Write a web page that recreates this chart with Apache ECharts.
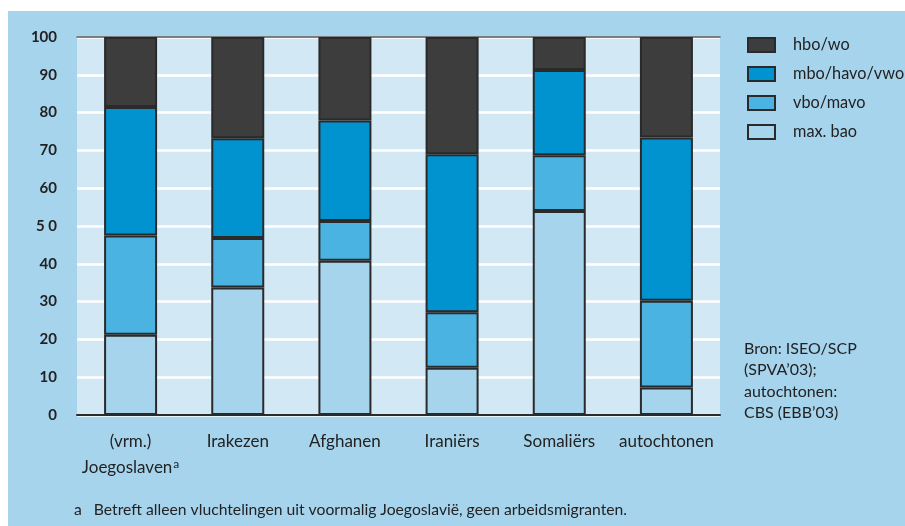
<!DOCTYPE html>
<html>
<head>
<meta charset="utf-8">
<script src="https://cdn.jsdelivr.net/npm/echarts@6/dist/echarts.min.js"></script>
<style>
  html, body { margin: 0; padding: 0; background: #ffffff; width: 905px; height: 526px; overflow: hidden; }
  #chart { position: absolute; left: 8px; top: 11px; width: 897px; height: 515px; background: #a7d4ed; }
</style>
</head>
<body>
<div id="chart"></div>
<script>
// ---- data ----
const categories = ['(vrm.)\nJoegoslaven', 'Irakezen', 'Afghanen', 'Iraniërs', 'Somaliërs', 'autochtonen'];
const seriesNames = ['max. bao', 'vbo/mavo', 'mbo/havo/vwo', 'hbo/wo'];
const maxBao   = [21.2, 33.7, 40.8, 12.5, 54.0, 7.3];
const vboMavo  = [26.3, 13.1, 10.5, 14.7, 14.7, 22.9];
const mboHavo  = [34.0, 26.4, 26.6, 41.8, 22.6, 43.2];
const hboWo    = [18.5, 26.8, 22.1, 31.0, 8.7, 26.6];
const yTickLabels = ['0', '10', '20', '30', '40', '5 0', '60', '70', '80', '90', '100'];
const legendOrder = ['hbo/wo', 'mbo/havo/vwo', 'vbo/mavo', 'max. bao'];
const sourceLines = ['Bron: ISEO/SCP', '(SPVA\u201903);', 'autochtonen:', 'CBS (EBB\u201903)'];
const footnote = 'a   Betreft alleen vluchtelingen uit voormalig Joegoslavië, geen arbeidsmigranten.';

const colors = {
  'max. bao': '#a7d4ed',
  'vbo/mavo': '#4bb3e1',
  'mbo/havo/vwo': '#0093d0',
  'hbo/wo': '#3d3d3d'
};
const FONT = 'Lato';
const TXT = '#222222';

const valuesByName = {
  'max. bao': maxBao,
  'vbo/mavo': vboMavo,
  'mbo/havo/vwo': mboHavo,
  'hbo/wo': hboWo
};

const chart = echarts.init(document.getElementById('chart'), null, { renderer: 'canvas' });

const series = seriesNames.map(name => ({
  name: name,
  type: 'bar',
  stack: 'total',
  barWidth: 53,
  data: valuesByName[name],
  itemStyle: { color: colors[name], borderColor: '#2a2a2a', borderWidth: 2 },
  emphasis: { disabled: true }
}));

chart.setOption({
  animation: false,
  textStyle: { fontFamily: FONT },
  grid: {
    left: 69, right: 185, top: 26, bottom: 111,
    show: true, backgroundColor: '#d2e8f5', borderWidth: 0
  },
  legend: {
    orient: 'vertical',
    left: 739, top: 26, padding: 0,
    icon: 'rect',
    itemWidth: 27, itemHeight: 14, itemGap: 13,
    data: legendOrder,
    textStyle: { fontFamily: FONT, fontSize: 16.3, color: TXT, padding: [0, 0, 0, 13] },
    selectedMode: false
  },
  xAxis: [{
    type: 'category',
    data: categories,
    axisLine: { lineStyle: { color: '#2b2b2b', width: 2 } },
    axisTick: { alignWithLabel: true, length: 8, lineStyle: { color: '#2b2b2b', width: 1.5 } },
    axisLabel: {
      interval: 0,
      fontFamily: FONT, fontSize: 17, color: TXT, margin: 14, lineHeight: 26,
      formatter: function (v) {
        return v.indexOf('Joegoslaven') >= 0 ? v + '{sup|a}' : v;
      },
      rich: { sup: { fontFamily: FONT, fontSize: 12, color: TXT, verticalAlign: 'top', lineHeight: 26, padding: [3, 0, 0, 1] } }
    }
  }, {
    type: 'category',
    data: categories,
    position: 'top',
    axisLine: { show: true, lineStyle: { color: '#555555', width: 1.5 } },
    axisTick: { show: false },
    axisLabel: { show: false }
  }],
  yAxis: {
    type: 'value',
    min: 0, max: 100, interval: 10,
    axisLine: { show: false },
    axisTick: { show: false },
    axisLabel: {
      fontFamily: FONT, fontSize: 15, color: TXT, margin: 20, fontWeight: 'bold',
      formatter: function (v) { return yTickLabels[Math.round(v / 10)]; }
    },
    splitLine: { lineStyle: { color: '#ffffff', width: 2.5 } }
  },
  graphic: [
    {
      type: 'text', left: 736, top: 327,
      style: {
        text: sourceLines.join('\n'),
        fontFamily: FONT, fontSize: 16, lineHeight: 21.5, fill: TXT
      }
    },
    {
      type: 'text', left: 66, top: 491,
      style: { text: footnote, fontFamily: FONT, fontSize: 15.7, fill: TXT }
    }
  ],
  series: series
});
</script>
</body>
</html>
